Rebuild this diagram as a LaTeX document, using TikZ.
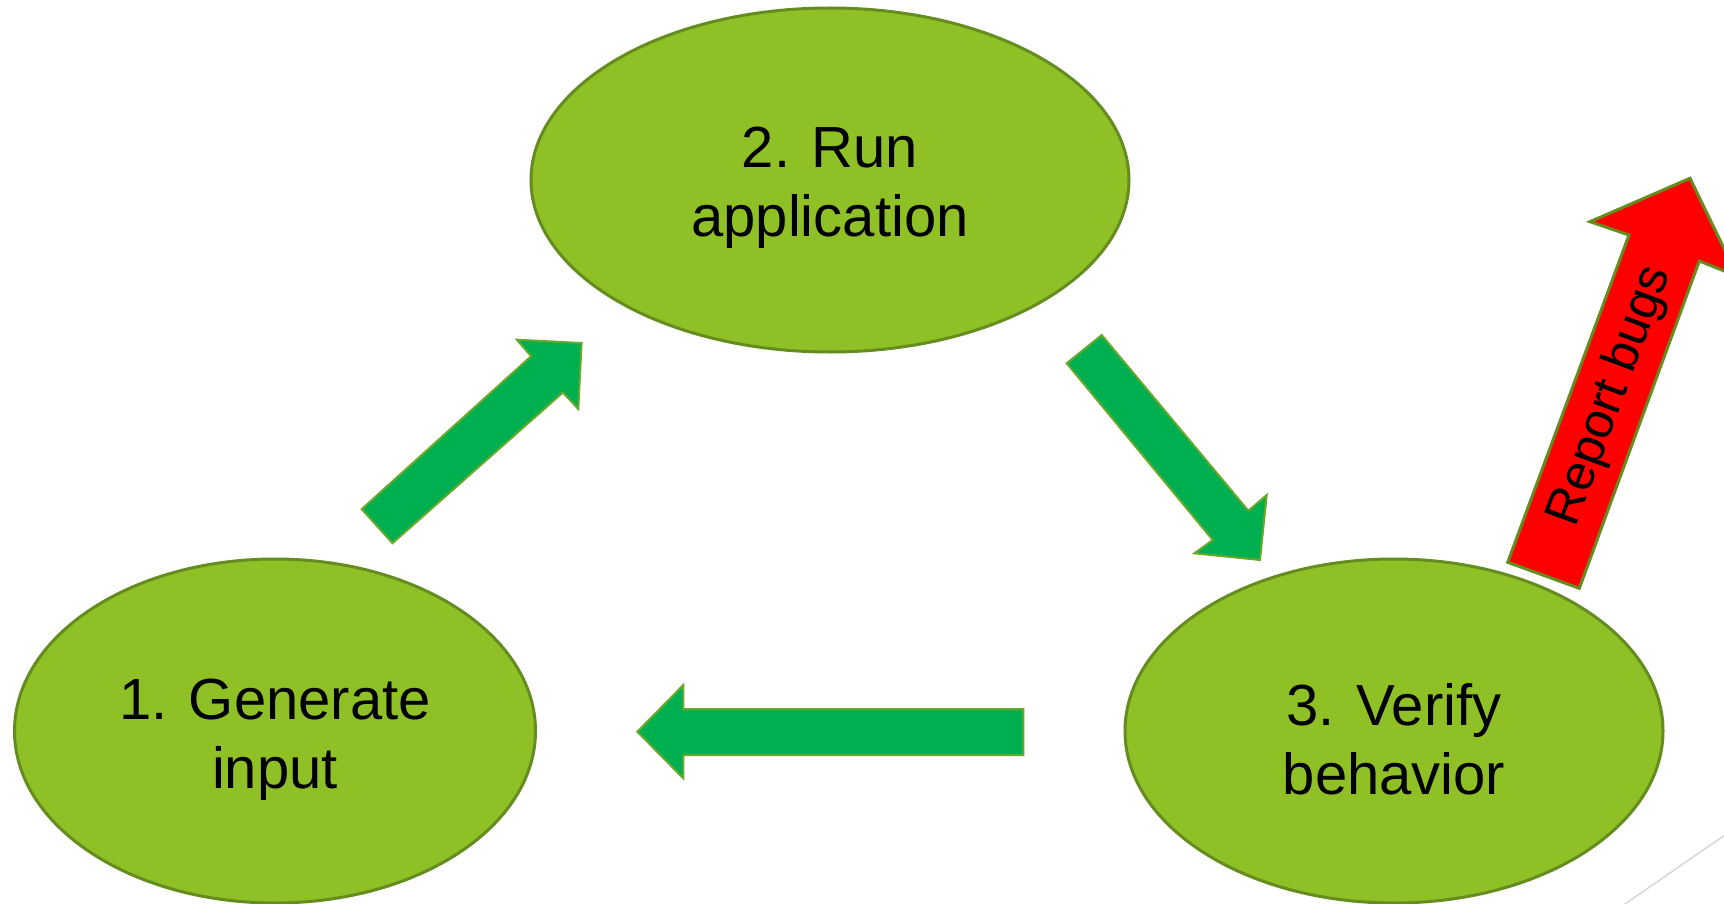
\documentclass[tikz,border=0pt]{standalone}
\usepackage{fontspec}
\setmainfont{Liberation Sans}
\usetikzlibrary{shapes.geometric}
\definecolor{ellfill}{RGB}{143,193,38}
\definecolor{elldraw}{RGB}{100,140,30}
\definecolor{arrfill}{RGB}{0,176,80}
\definecolor{arrdraw}{RGB}{106,168,44}
\definecolor{bugred}{RGB}{255,0,0}
\definecolor{faintline}{RGB}{215,215,215}
\begin{document}
\begin{tikzpicture}[x=0.5pt,y=-0.5pt,
  stage/.style={ellipse, fill=ellfill, draw=elldraw, line width=1.5pt, inner sep=0pt},
  stagetext/.style={align=center, font=\fontsize{29}{34.5}\selectfont, text=black, inner sep=0pt},
  blockarrow/.style={fill=arrfill, draw=arrdraw, line width=1pt, line join=miter},
  bugarrow/.style={fill=bugred, draw=elldraw, line width=1.5pt, line join=miter},
  bugtext/.style={font=\fontsize{25}{29}\selectfont, text=black, inner sep=0pt}]
\useasboundingbox (0,0) rectangle (1724,904);
\clip (0,0) rectangle (1724,904);

% stages
\node[stage, minimum width=299pt, minimum height=172pt] (e2) at (830,180) {};
\node[stage, minimum width=260.5pt, minimum height=172pt] (e1) at (275,731) {};
\node[stage, minimum width=269pt, minimum height=172pt] (e3) at (1394,731) {};
\node[stagetext] (t2) at ([yshift=-4pt]e2.center) {2. Run\\application};
\node[stagetext] (t1) at ([yshift=-4.3pt]e1.center) {1. Generate\\input};
\node[stagetext] (t3) at ([yshift=-4.3pt]e3.center) {3. Verify\\behavior};

% green block arrows
\draw[blockarrow] (361.7,509.1) -- (531.1,356.2) -- (516.8,339.7) -- (581.6,343.0)
  -- (578.3,409.0) -- (562.9,392.5) -- (392.5,543.2) -- cycle;
\draw[blockarrow] (1066.7,363.3) -- (1212.7,540) -- (1194.3,553.3) -- (1260,560)
  -- (1266.7,495) -- (1248.3,510.7) -- (1101.7,335) -- cycle;
\draw[blockarrow] (1023.3,709) -- (683.3,709) -- (683.3,685) -- (637.3,731.7)
  -- (683.3,778.3) -- (683.3,755) -- (1023.3,755) -- cycle;

% red arrow
\draw[bugarrow] (1507.7,562.3) -- (1629,235) -- (1590,221.7) -- (1690,178.3)
  -- (1737.6,276.4) -- (1699.3,261) -- (1579.3,588.3) -- cycle;
\node[bugtext, rotate=69.66] (bug) at (1611,396) {Report bugs};

% faint line bottom right
\coordinate (fa) at (1622,906);
\coordinate (fb) at (1726,834.3);
\draw[faintline, line width=0.75pt] (fa) -- (fb);
\end{tikzpicture}
\end{document}
